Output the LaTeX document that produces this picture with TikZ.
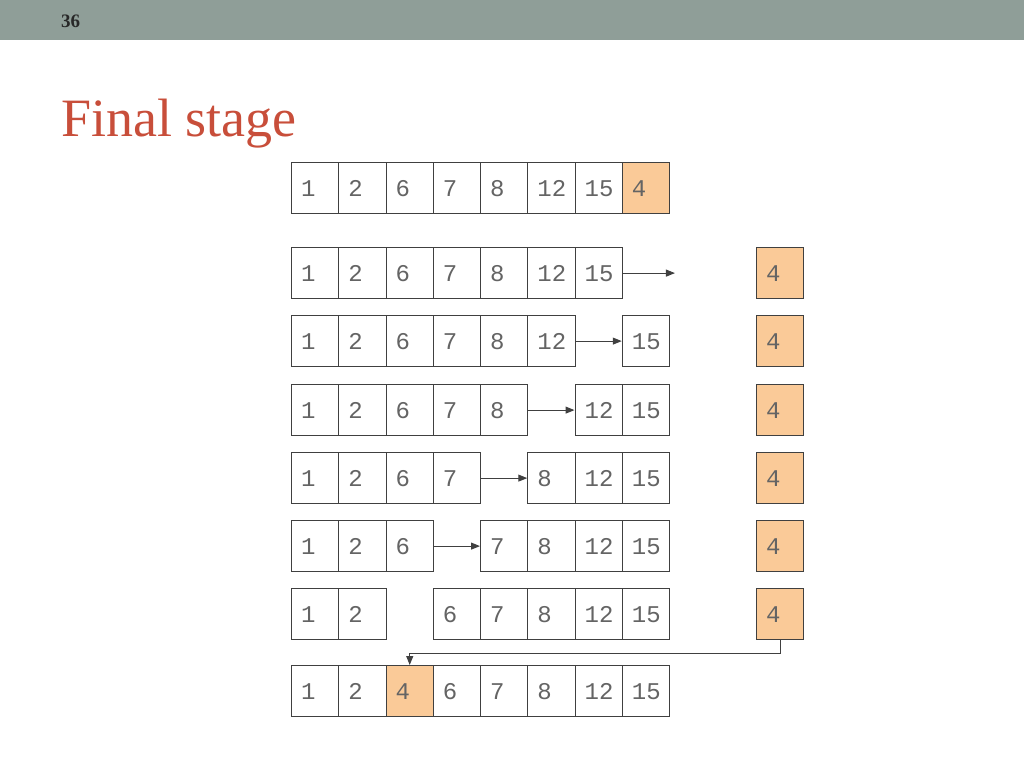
\documentclass[tikz,border=0pt]{standalone}
\usepackage{fontspec}
\setmainfont{Liberation Serif}
\newfontfamily\cellmono{Liberation Mono}
\usetikzlibrary{arrows.meta}
\definecolor{headbar}{RGB}{143,158,152}
\definecolor{titlered}{RGB}{200,78,58}
\definecolor{orangefill}{RGB}{250,202,152}
\definecolor{cellline}{RGB}{64,64,64}
\definecolor{celltext}{RGB}{100,100,100}
\definecolor{pagenum}{RGB}{40,40,40}
\tikzset{
  cell/.style={draw=cellline, line width=1.2pt, fill=white, minimum width=47.25pt,
    minimum height=51pt, text width=28pt, inner xsep=9.6pt, inner ysep=0pt, align=left,
    font=\cellmono\fontsize{24}{28}\selectfont, text=celltext, anchor=north west,
    text height=17pt, text depth=0pt},
  hot/.style={cell, fill=orangefill},
  arr/.style={draw=cellline, line width=1pt, -{Triangle[length=9pt,width=7pt]}}
}
\begin{document}
\begin{tikzpicture}[x=1pt,y=-1pt]
\useasboundingbox (0,0) rectangle (1024,768);
\fill[headbar] (0,0) rectangle (1024,40.5);
\node[anchor=base west, inner sep=0pt, text=pagenum, font=\bfseries\fontsize{19}{22}\selectfont] (pg) at (61,27.5) {36};
\node[anchor=base west, inner sep=0pt, text=titlered, font=\fontsize{54}{60}\selectfont] (title) at (61,136) {Final stage};
% row 1
\foreach \c/\v in {0/1,1/2,2/6,3/7,4/8,5/12,6/15}
  \node[cell] (ra\c) at ({291+47.25*\c},162) {\v};
\node[hot] (ra7) at ({291+47.25*7},162) {4};
% row 2
\foreach \c/\v in {0/1,1/2,2/6,3/7,4/8,5/12,6/15}
  \node[cell] (rb\c) at ({291+47.25*\c},247) {\v};
\coordinate (rbend) at ([xshift=52pt]rb6.east);
\draw[arr] (rb6.east) -- (rbend);
% row 3
\foreach \c/\v in {0/1,1/2,2/6,3/7,4/8,5/12,7/15}
  \node[cell] (rc\c) at ({291+47.25*\c},315) {\v};
\draw[arr] (rc5.east) -- (rc7.west);
% row 4
\foreach \c/\v in {0/1,1/2,2/6,3/7,4/8,6/12,7/15}
  \node[cell] (rd\c) at ({291+47.25*\c},384) {\v};
\draw[arr] (rd4.east) -- (rd6.west);
% row 5
\foreach \c/\v in {0/1,1/2,2/6,3/7,5/8,6/12,7/15}
  \node[cell] (re\c) at ({291+47.25*\c},452) {\v};
\draw[arr] (re3.east) -- (re5.west);
% row 6
\foreach \c/\v in {0/1,1/2,2/6,4/7,5/8,6/12,7/15}
  \node[cell] (rf\c) at ({291+47.25*\c},520) {\v};
\draw[arr] (rf2.east) -- (rf4.west);
% row 7
\foreach \c/\v in {0/1,1/2,3/6,4/7,5/8,6/12,7/15}
  \node[cell] (rg\c) at ({291+47.25*\c},588) {\v};
% right column
\node[hot] (qb) at (756,247) {4};
\node[hot] (qc) at (756,315) {4};
\node[hot] (qd) at (756,384) {4};
\node[hot] (qe) at (756,452) {4};
\node[hot] (qf) at (756,520) {4};
\node[hot] (qg) at (756,588) {4};
% row 8
\foreach \c/\v in {0/1,1/2,3/6,4/7,5/8,6/12,7/15}
  \node[cell] (rh\c) at ({291+47.25*\c},665) {\v};
\node[hot] (rh2) at ({291+47.25*2},665) {4};
\draw[arr] (qg.south) -- ([yshift=-13pt]qg.south) -| (rh2.north);
\end{tikzpicture}
\end{document}
